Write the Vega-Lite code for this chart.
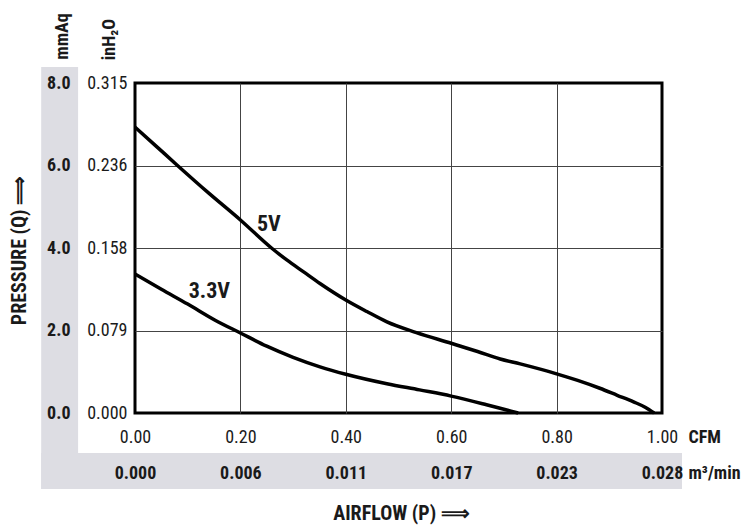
{
  "$schema": "https://vega.github.io/schema/vega-lite/v6.json",
  "width": 527,
  "height": 330,
  "autosize": "none",
  "padding": {"left": 135, "top": 83, "right": 82, "bottom": 114},
  "config": {
    "font": "Roboto Condensed, Liberation Sans Narrow, Roboto, sans-serif",
    "view": {"stroke": "#000000", "strokeWidth": 3},
    "axis": {"labelColor": "#1a1a1a", "titleColor": "#1a1a1a", "labelFlush": false, "labelOverlap": false, "labelBound": false}
  },
  "datasets": {
    "curves": [
      {"series": "5V", "cfm": 0, "mmaq": 6.93},
      {"series": "5V", "cfm": 0.04, "mmaq": 6.47},
      {"series": "5V", "cfm": 0.079, "mmaq": 6.02},
      {"series": "5V", "cfm": 0.14, "mmaq": 5.33},
      {"series": "5V", "cfm": 0.2, "mmaq": 4.68},
      {"series": "5V", "cfm": 0.259, "mmaq": 4.0},
      {"series": "5V", "cfm": 0.288, "mmaq": 3.71},
      {"series": "5V", "cfm": 0.32, "mmaq": 3.42},
      {"series": "5V", "cfm": 0.351, "mmaq": 3.14},
      {"series": "5V", "cfm": 0.4, "mmaq": 2.74},
      {"series": "5V", "cfm": 0.44, "mmaq": 2.46},
      {"series": "5V", "cfm": 0.478, "mmaq": 2.21},
      {"series": "5V", "cfm": 0.534, "mmaq": 1.95},
      {"series": "5V", "cfm": 0.6, "mmaq": 1.69},
      {"series": "5V", "cfm": 0.65, "mmaq": 1.49},
      {"series": "5V", "cfm": 0.693, "mmaq": 1.31},
      {"series": "5V", "cfm": 0.731, "mmaq": 1.19},
      {"series": "5V", "cfm": 0.8, "mmaq": 0.95},
      {"series": "5V", "cfm": 0.84, "mmaq": 0.79},
      {"series": "5V", "cfm": 0.882, "mmaq": 0.6},
      {"series": "5V", "cfm": 0.915, "mmaq": 0.43},
      {"series": "5V", "cfm": 0.946, "mmaq": 0.27},
      {"series": "5V", "cfm": 0.968, "mmaq": 0.14},
      {"series": "5V", "cfm": 0.985, "mmaq": 0},
      {"series": "3.3V", "cfm": 0, "mmaq": 3.37},
      {"series": "3.3V", "cfm": 0.05, "mmaq": 3.0},
      {"series": "3.3V", "cfm": 0.1, "mmaq": 2.64},
      {"series": "3.3V", "cfm": 0.152, "mmaq": 2.25},
      {"series": "3.3V", "cfm": 0.2, "mmaq": 1.94},
      {"series": "3.3V", "cfm": 0.25, "mmaq": 1.62},
      {"series": "3.3V", "cfm": 0.3, "mmaq": 1.35},
      {"series": "3.3V", "cfm": 0.351, "mmaq": 1.12},
      {"series": "3.3V", "cfm": 0.4, "mmaq": 0.94},
      {"series": "3.3V", "cfm": 0.478, "mmaq": 0.71},
      {"series": "3.3V", "cfm": 0.54, "mmaq": 0.56},
      {"series": "3.3V", "cfm": 0.6, "mmaq": 0.41},
      {"series": "3.3V", "cfm": 0.667, "mmaq": 0.2},
      {"series": "3.3V", "cfm": 0.7, "mmaq": 0.09},
      {"series": "3.3V", "cfm": 0.727, "mmaq": 0}
    ],
    "labels": [
      {"label": "5V", "cfm": 0.254, "mmaq": 4.59},
      {"label": "3.3V", "cfm": 0.141, "mmaq": 2.95}
    ]
  },
  "layer": [
    {
      "data": {"values": [{}]},
      "mark": {"type": "rect", "color": "#dddde3"},
      "encoding": {
        "x": {"datum": -0.178, "type": "quantitative", "scale": {"domain": [0, 1]},
          "axis": {"orient": "bottom", "values": [0, 0.2, 0.4, 0.6, 0.8, 1], "labelExpr": "format(datum.value*0.02832, '.3f')",
            "ticks": false, "domain": false, "grid": false, "labelPadding": 51, "labelFontSize": 18, "labelFontWeight": "bold", "zindex": 1,
            "title": "m³/min", "titleX": 553, "titleY": 60, "titleAlign": "left", "titleBaseline": "middle", "titleFontSize": 18, "titleFontWeight": "bold", "titleAngle": 0}},
        "x2": {"datum": -0.108},
        "y": {"datum": -1.84, "type": "quantitative", "scale": {"domain": [0, 8]},
          "axis": {"orient": "left", "values": [0, 2, 4, 6, 8], "labelExpr": "datum.value == 0 ? '0.000' : datum.value == 2 ? '0.079' : datum.value == 4 ? '0.158' : datum.value == 6 ? '0.236' : '0.315'",
            "ticks": false, "domain": false, "grid": false, "labelPadding": 8, "labelFontSize": 18, "zindex": 1,
            "title": "inH₂O", "titleX": -26, "titleY": -44, "titleAngle": -90, "titleAlign": "center", "titleBaseline": "middle", "titleFontSize": 18, "titleFontWeight": "bold"}},
        "y2": {"datum": 8.39}
      }
    },
    {
      "data": {"values": [{}]},
      "mark": {"type": "rect", "color": "#dddde3"},
      "encoding": {
        "x": {"datum": -0.178, "type": "quantitative", "scale": {"domain": [0, 1]},
          "axis": {"orient": "bottom", "values": [0.2, 0.4, 0.6, 0.8], "labels": false, "ticks": false, "domain": false,
            "grid": true, "gridColor": "#444444", "gridWidth": 1, "zindex": 0,
            "title": "AIRFLOW (P) ⟹", "titleX": 266, "titleY": 100, "titleAlign": "center", "titleBaseline": "middle", "titleFontSize": 20, "titleFontWeight": "bold", "titleAngle": 0}},
        "x2": {"datum": 1.038},
        "y": {"datum": -1.84, "type": "quantitative", "scale": {"domain": [0, 8]},
          "axis": {"orient": "left", "values": [2, 4, 6], "labels": false, "ticks": false, "domain": false,
            "grid": true, "gridColor": "#444444", "gridWidth": 1, "zindex": 0,
            "title": "PRESSURE (Q) ⟹", "titleX": -116, "titleY": 167, "titleAngle": -90, "titleAlign": "center", "titleBaseline": "middle", "titleFontSize": 20, "titleFontWeight": "bold"}},
        "y2": {"datum": -0.97}
      }
    },
    {
      "data": {"name": "curves"},
      "mark": {"type": "line", "color": "#000000", "strokeWidth": 3.5, "interpolate": "monotone"},
      "encoding": {
        "x": {"field": "cfm", "type": "quantitative", "scale": {"domain": [0, 1]},
          "axis": {"orient": "bottom", "values": [0, 0.2, 0.4, 0.6, 0.8, 1], "format": ".2f",
            "ticks": false, "domain": false, "grid": false, "labelPadding": 15, "labelFontSize": 18, "zindex": 1,
            "title": "CFM", "titleX": 553, "titleY": 24, "titleAlign": "left", "titleBaseline": "middle", "titleFontSize": 18, "titleFontWeight": "bold", "titleAngle": 0}},
        "y": {"field": "mmaq", "type": "quantitative", "scale": {"domain": [0, 8]},
          "axis": {"orient": "left", "values": [0, 2, 4, 6, 8], "format": ".1f",
            "ticks": false, "domain": false, "grid": false, "labelPadding": 65, "labelFontSize": 18, "labelFontWeight": "bold", "zindex": 1,
            "title": "mmAq", "titleX": -73, "titleY": -47, "titleAngle": -90, "titleAlign": "center", "titleBaseline": "middle", "titleFontSize": 18, "titleFontWeight": "bold"}},
        "detail": {"field": "series", "type": "nominal"}
      }
    },
    {
      "data": {"name": "labels"},
      "mark": {"type": "text", "fontSize": 22, "fontWeight": "bold", "color": "#1a1a1a", "align": "center", "baseline": "middle"},
      "encoding": {
        "x": {"field": "cfm", "type": "quantitative", "scale": {"domain": [0, 1]}, "axis": null},
        "y": {"field": "mmaq", "type": "quantitative", "scale": {"domain": [0, 8]}, "axis": null},
        "text": {"field": "label", "type": "nominal"}
      }
    }
  ],
  "resolve": {"axis": {"x": "independent", "y": "independent"}}
}
